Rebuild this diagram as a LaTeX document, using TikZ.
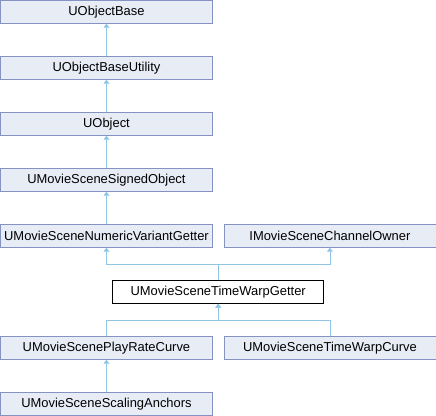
\documentclass[tikz,border=0pt]{standalone}
\usepackage{fontspec}
\setmainfont{Liberation Sans}
\usepackage{tikz}
\usepackage{xcolor}
\usetikzlibrary{positioning, arrows.meta, calc}

\definecolor{boxfill}{RGB}{232,236,245}
\definecolor{boxline}{RGB}{132,146,196}
\definecolor{edgeblue}{RGB}{145,197,228}

\begin{document}
\begin{tikzpicture}[
    node distance=24.5pt and 8.25pt, % vertical and horizontal spacing
    every node/.style={font=\fontsize{9.7pt}{11pt}\selectfont},
    cls/.style={draw=boxline, fill=boxfill, line width=0.6pt, minimum width=158.5pt, minimum height=16.9pt, inner sep=0pt},
    cur/.style={cls, draw=black, fill=white},
    edge/.style={draw=edgeblue, line width=0.6pt, -{Triangle[length=3pt,width=4.5pt]}}
]
    \useasboundingbox (0,0) rectangle (327pt,-312pt);

    % Place the nodes
    \node (ubase) [cls, anchor=north west] at (0.3pt,-0.3pt) {UObjectBase};
    \node (util) [cls, below=of ubase] {UObjectBaseUtility};
    \node (uobj) [cls, below=of util] {UObject};
    \node (signed) [cls, below=of uobj] {UMovieSceneSignedObject};
    \node (numeric) [cls, below=of signed] {UMovieSceneNumericVariantGetter};
    \node (channel) [cls, right=of numeric, minimum width=159pt] {IMovieSceneChannelOwner};
    \coordinate (mid) at ($(numeric.south)!0.5!(channel.south)$);
    \node (getter) [cur, below=of mid] {UMovieSceneTimeWarpGetter};
    \coordinate (lowmid) at (getter.south -| numeric.south);
    \node (playrate) [cls, below=of lowmid] {UMovieScenePlayRateCurve};
    \node (warpcurve) [cls, right=of playrate, minimum width=159pt] {UMovieSceneTimeWarpCurve};
    \node (scaling) [cls, below=of playrate] {UMovieSceneScalingAnchors};

    % Draw the inheritance edges
    \draw [edge] (util) -- (ubase);
    \draw [edge] (uobj) -- (util);
    \draw [edge] (signed) -- (uobj);
    \draw [edge] (numeric) -- (signed);
    \draw [edge] (getter.north) -- ++(0,12pt) -| (numeric.south);
    \draw [edge] (getter.north) -- ++(0,12pt) -| (channel.south);
    \draw [edge] (playrate.north) -- ++(0,12pt) -| (getter.south);
    \draw [edge] (warpcurve.north) -- ++(0,12pt) -| (getter.south);
    \draw [edge] (scaling) -- (playrate);
\end{tikzpicture}
\end{document}
